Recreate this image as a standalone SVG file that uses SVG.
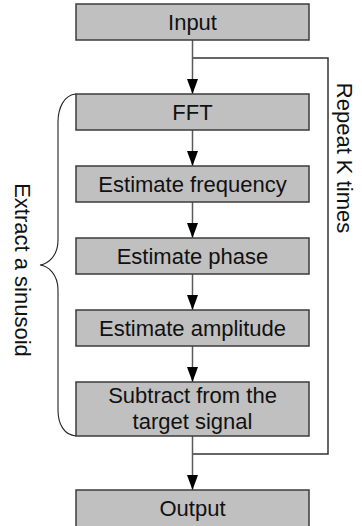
<svg xmlns="http://www.w3.org/2000/svg" width="362" height="526" viewBox="0 0 362 526">
<style>
.box{fill:#c0c0c0;stroke:#3c3c3c;stroke-width:1.5}
.t{font-family:"Liberation Sans",Arial,sans-serif;font-size:22px;fill:#111;text-anchor:middle}
.shaft{fill:none;stroke:#5a5a5a;stroke-width:1.5}
.loop{fill:none;stroke:#333;stroke-width:1.5}
.brace{fill:none;stroke:#222;stroke-width:1.1}
</style>
<defs>
<marker id="ah" viewBox="0 0 15 11" refX="15" refY="5.5" markerWidth="15" markerHeight="11" markerUnits="userSpaceOnUse" orient="auto">
<path d="M0,0 L15,5.5 L0,11 z" fill="#000"/>
</marker>
</defs>
<rect width="362" height="526" fill="#fff"/>
<g id="connectors">
<path class="loop" d="M192.5,58 H328 V454 H192.5"/>
<path class="shaft" d="M192.5,40 V94" marker-end="url(#ah)"/>
<path class="shaft" d="M192.5,130 V166" marker-end="url(#ah)"/>
<path class="shaft" d="M192.5,202 V238" marker-end="url(#ah)"/>
<path class="shaft" d="M192.5,274 V310" marker-end="url(#ah)"/>
<path class="shaft" d="M192.5,346 V382" marker-end="url(#ah)"/>
<path class="shaft" d="M192.5,436 V490" marker-end="url(#ah)"/>
</g>
<g id="input"><rect class="box" x="76" y="4" width="233" height="36"/><text class="t" x="192.5" y="30">Input</text></g>
<g id="fft"><rect class="box" x="76" y="94" width="233" height="36"/><text class="t" x="192.5" y="120">FFT</text></g>
<g id="freq"><rect class="box" x="76" y="166" width="233" height="36"/><text class="t" x="192.5" y="192">Estimate frequency</text></g>
<g id="phase"><rect class="box" x="76" y="238" width="233" height="36"/><text class="t" x="192.5" y="264">Estimate phase</text></g>
<g id="amp"><rect class="box" x="76" y="310" width="233" height="36"/><text class="t" x="192.5" y="336">Estimate amplitude</text></g>
<g id="subtract"><rect class="box" x="76" y="382" width="233" height="54"/><text class="t" x="192.5" y="403">Subtract from the</text><text class="t" x="192.5" y="429">target signal</text></g>
<g id="output"><rect class="box" x="76" y="490" width="233" height="40"/><text class="t" x="192.5" y="516">Output</text></g>
<g id="brace"><path class="brace" d="M76,94 C64,95 58,108 58,122 L58,240 C58,256 48,264 40,265 C48,266 58,274 58,290 L58,410 C58,424 64,435 76,436"/>
<text class="t" transform="translate(15,270) rotate(90)">Extract a sinusoid</text></g>
<g id="repeat"><text class="t" transform="translate(337,158) rotate(90)">Repeat K times</text></g>
</svg>
